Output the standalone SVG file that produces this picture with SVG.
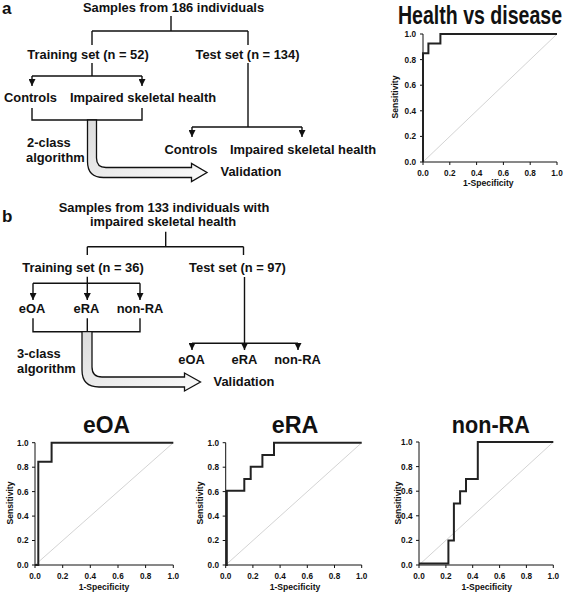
<svg xmlns="http://www.w3.org/2000/svg" width="567" height="595" viewBox="0 0 567 595">
<defs>
<marker id="ah" viewBox="0 0 10 10" refX="10" refY="5" markerWidth="7" markerHeight="7" markerUnits="userSpaceOnUse" orient="auto"><path d="M0,0 L10,5 L0,10 z" fill="#111"/></marker>
<linearGradient id="bg" x1="0" y1="0" x2="1" y2="1"><stop offset="0" stop-color="#dcdcdc"/><stop offset="1" stop-color="#fafafa"/></linearGradient>
</defs>
<style>
text{font-family:"Liberation Sans",Arial,sans-serif;font-weight:bold;fill:#111}
.lb{font-size:12.9px;text-anchor:middle}
.ll{font-size:12.9px;text-anchor:start}
.pl{font-size:17px}
.ti{font-size:24px;text-anchor:middle}
.tk{font-size:8.2px;text-anchor:middle}
.ty{font-size:8.2px;text-anchor:end}
.ax{font-size:8.6px;text-anchor:middle}
.cn{fill:none;stroke:#111;stroke-width:1.4}
.ar{fill:none;stroke:#111;stroke-width:1.4;marker-end:url(#ah)}
.big{fill:url(#bg);stroke:#111;stroke-width:1.3}
.axis{fill:none;stroke:#111;stroke-width:1}
.diag{fill:none;stroke:#c8c8c8;stroke-width:0.8}
.roc{fill:none;stroke:#222;stroke-width:2}
</style>

<text class="pl" x="2" y="14">a</text>
<text class="pl" x="2" y="221.5">b</text>

<g id="a-samples"><text class="lb" x="173.5" y="11.7">Samples from 186 individuals</text></g>
<g id="a-training"><text class="lb" x="88" y="59.3">Training set (n = 52)</text></g>
<g id="a-test"><text class="lb" x="247.5" y="59.3">Test set (n = 134)</text></g>
<g id="a-controls1"><text class="lb" x="30.5" y="102.3">Controls</text></g>
<g id="a-impaired1"><text class="lb" x="143" y="102.3">Impaired skeletal health</text></g>
<g id="a-controls2"><text class="lb" x="191" y="154">Controls</text></g>
<g id="a-impaired2"><text class="lb" x="303" y="154">Impaired skeletal health</text></g>
<g id="a-algo"><text class="ll" x="27" y="147.3">2-class</text><text class="ll" x="26" y="162.3">algorithm</text></g>
<g id="a-validation"><text class="lb" x="251" y="175.7">Validation</text></g>

<g id="b-samples"><text class="lb" x="164" y="211.7">Samples from 133 individuals with</text><text class="lb" x="163" y="225.7">impaired skeletal health</text></g>
<g id="b-training"><text class="lb" x="83" y="271.7">Training set (n = 36)</text></g>
<g id="b-test"><text class="lb" x="237.5" y="271.7">Test set (n = 97)</text></g>
<g id="b-eoa1"><text class="lb" x="32" y="312.7">eOA</text></g>
<g id="b-era1"><text class="lb" x="86.5" y="312.7">eRA</text></g>
<g id="b-nonra1"><text class="lb" x="140" y="312.7">non-RA</text></g>
<g id="b-eoa2"><text class="lb" x="191.5" y="364">eOA</text></g>
<g id="b-era2"><text class="lb" x="244.5" y="364">eRA</text></g>
<g id="b-nonra2"><text class="lb" x="297.5" y="364">non-RA</text></g>
<g id="b-algo"><text class="ll" x="17" y="358.3">3-class</text><text class="ll" x="17" y="373.3">algorithm</text></g>
<g id="b-validation"><text class="lb" x="244" y="386">Validation</text></g>

<g id="connectors">
<path class="cn" d="M171 16V31M92 31H248M92 31V45M248 31V45"/>
<path class="cn" d="M92 63V76M32 76H142"/>
<path class="ar" d="M32 76V86"/>
<path class="ar" d="M142 76V86"/>
<path class="cn" d="M32 108V120H142V108"/>
<path class="cn" d="M248 63V127M192 127H302"/>
<path class="ar" d="M192 127V137"/>
<path class="ar" d="M302 127V137"/>
<path class="big" d="M87.5 120L87.5 161.5Q87.5 177.5 103.5 177.5L191.5 177.5L191.5 181.5L207 172.5L191.5 163.5L191.5 167.5L106 167.5Q96.5 167.5 96.5 158L96.5 120Z"/>

<path class="cn" d="M165.7 231.7V246.7M87.3 246.7H243.5M87.3 246.7V255M243.5 246.7V255"/>
<path class="cn" d="M33 283.3H140"/>
<path class="ar" d="M87.3 276.7V300"/>
<path class="ar" d="M33 283.3V300"/>
<path class="ar" d="M140 283.3V300"/>
<path class="cn" d="M33 318.3V331.7H140V318.3M87.3 318.3V331.7"/>
<path class="cn" d="M244.5 277V343.3M192 343.3H298"/>
<path class="ar" d="M192 343.3V350"/>
<path class="ar" d="M244.5 343.3V350"/>
<path class="ar" d="M298 343.3V350"/>
<path class="big" d="M82 331.7L82 370Q82 387 99 387L184.5 387L184.5 391L200.5 382L184.5 373L184.5 377L102 377Q92 377 92 367L92 331.7Z"/>
</g>

<g id="roc-health">
<text class="ti" transform="translate(480,24) scale(0.782,1)" style="font-size:25px">Health vs disease</text>
<path class="diag" d="M423 162L557 34"/>
<path class="axis" d="M423 34V162H557M420 34H423M420 59.6H423M420 85.2H423M420 110.8H423M420 136.4H423M420 162H423M423 162V165M449.8 162V165M476.6 162V165M503.4 162V165M530.2 162V165M557 162V165"/>
<path class="roc" d="M423 162V53.2H428.4V43.6H440.4V34H557"/>
<text class="ty" x="416" y="36.9">1.0</text><text class="ty" x="416" y="62.5">0.8</text><text class="ty" x="416" y="88.1">0.6</text><text class="ty" x="416" y="113.7">0.4</text><text class="ty" x="416" y="139.3">0.2</text><text class="ty" x="416" y="164.9">0.0</text>
<text class="tk" x="423" y="176">0.0</text><text class="tk" x="449.8" y="176">0.2</text><text class="tk" x="476.6" y="176">0.4</text><text class="tk" x="503.4" y="176">0.6</text><text class="tk" x="530.2" y="176">0.8</text><text class="tk" x="557" y="176">1.0</text>
<text class="ax" x="488.3" y="186">1-Specificity</text>
<text class="ax" transform="translate(398,97) rotate(-90)">Sensitivity</text>
</g>

<g id="roc-eoa">
<text class="ti" x="106.5" y="432.7" textLength="47" lengthAdjust="spacingAndGlyphs">eOA</text>
<path class="diag" d="M35 565L173.3 442.7"/>
<path class="axis" d="M35 442.7V565H173.3M32 442.7H35M32 467.2H35M32 491.6H35M32 516.1H35M32 540.5H35M32 565H35M35 565V568M62.7 565V568M90.3 565V568M118 565V568M145.6 565V568M173.3 565V568"/>
<path class="roc" d="M35 565H38.3V461.7H51.6V442.7H173.3"/>
<text class="ty" x="28.5" y="445.6">1.0</text><text class="ty" x="28.5" y="470.1">0.8</text><text class="ty" x="28.5" y="494.5">0.6</text><text class="ty" x="28.5" y="519">0.4</text><text class="ty" x="28.5" y="543.4">0.2</text><text class="ty" x="28.5" y="567.9">0.0</text>
<text class="tk" x="35" y="578.5">0.0</text><text class="tk" x="62.7" y="578.5">0.2</text><text class="tk" x="90.3" y="578.5">0.4</text><text class="tk" x="118" y="578.5">0.6</text><text class="tk" x="145.6" y="578.5">0.8</text><text class="tk" x="173.3" y="578.5">1.0</text>
<text class="ax" x="104" y="590">1-Specificity</text>
<text class="ax" transform="translate(13,503) rotate(-90)">Sensitivity</text>
</g>

<g id="roc-era">
<text class="ti" x="295" y="432.7" textLength="46.6" lengthAdjust="spacingAndGlyphs">eRA</text>
<path class="diag" d="M225.7 565L361.7 442.7"/>
<path class="axis" d="M225.7 442.7V565H361.7M222.7 442.7H225.7M222.7 467.2H225.7M222.7 491.6H225.7M222.7 516.1H225.7M222.7 540.5H225.7M222.7 565H225.7M225.7 565V568M252.9 565V568M280.1 565V568M307.3 565V568M334.5 565V568M361.7 565V568"/>
<path class="roc" d="M225.7 565H226.8V490.8H244.3V479H250.7V466.7H262.4V454.9H274V442.7H361.7"/>
<text class="ty" x="219" y="445.6">1.0</text><text class="ty" x="219" y="470.1">0.8</text><text class="ty" x="219" y="494.5">0.6</text><text class="ty" x="219" y="519">0.4</text><text class="ty" x="219" y="543.4">0.2</text><text class="ty" x="219" y="567.9">0.0</text>
<text class="tk" x="225.7" y="578.5">0.0</text><text class="tk" x="252.9" y="578.5">0.2</text><text class="tk" x="280.1" y="578.5">0.4</text><text class="tk" x="307.3" y="578.5">0.6</text><text class="tk" x="334.5" y="578.5">0.8</text><text class="tk" x="361.7" y="578.5">1.0</text>
<text class="ax" x="295" y="590">1-Specificity</text>
<text class="ax" transform="translate(203,503) rotate(-90)">Sensitivity</text>
</g>

<g id="roc-nonra">
<text class="ti" x="490.8" y="432.7" textLength="78" lengthAdjust="spacingAndGlyphs">non-RA</text>
<path class="diag" d="M419 565L553.3 442"/>
<path class="axis" d="M419 442V565H553.3M416 442H419M416 466.6H419M416 491.2H419M416 515.8H419M416 540.4H419M416 565H419M419 565V568M445.9 565V568M472.7 565V568M499.6 565V568M526.4 565V568M553.3 565V568"/>
<path class="roc" d="M419 563.5H448.4V540.4H453.9V503.5H460.1V491.2H466V478.9H477.8V442H553.3"/>
<text class="ty" x="412.5" y="444.9">1.0</text><text class="ty" x="412.5" y="469.5">0.8</text><text class="ty" x="412.5" y="494.1">0.6</text><text class="ty" x="412.5" y="518.7">0.4</text><text class="ty" x="412.5" y="543.3">0.2</text><text class="ty" x="412.5" y="567.9">0.0</text>
<text class="tk" x="419" y="578.5">0.0</text><text class="tk" x="445.9" y="578.5">0.2</text><text class="tk" x="472.7" y="578.5">0.4</text><text class="tk" x="499.6" y="578.5">0.6</text><text class="tk" x="526.4" y="578.5">0.8</text><text class="tk" x="553.3" y="578.5">1.0</text>
<text class="ax" x="486.7" y="590">1-Specificity</text>
<text class="ax" transform="translate(401,503) rotate(-90)">Sensitivity</text>
</g>
</svg>
